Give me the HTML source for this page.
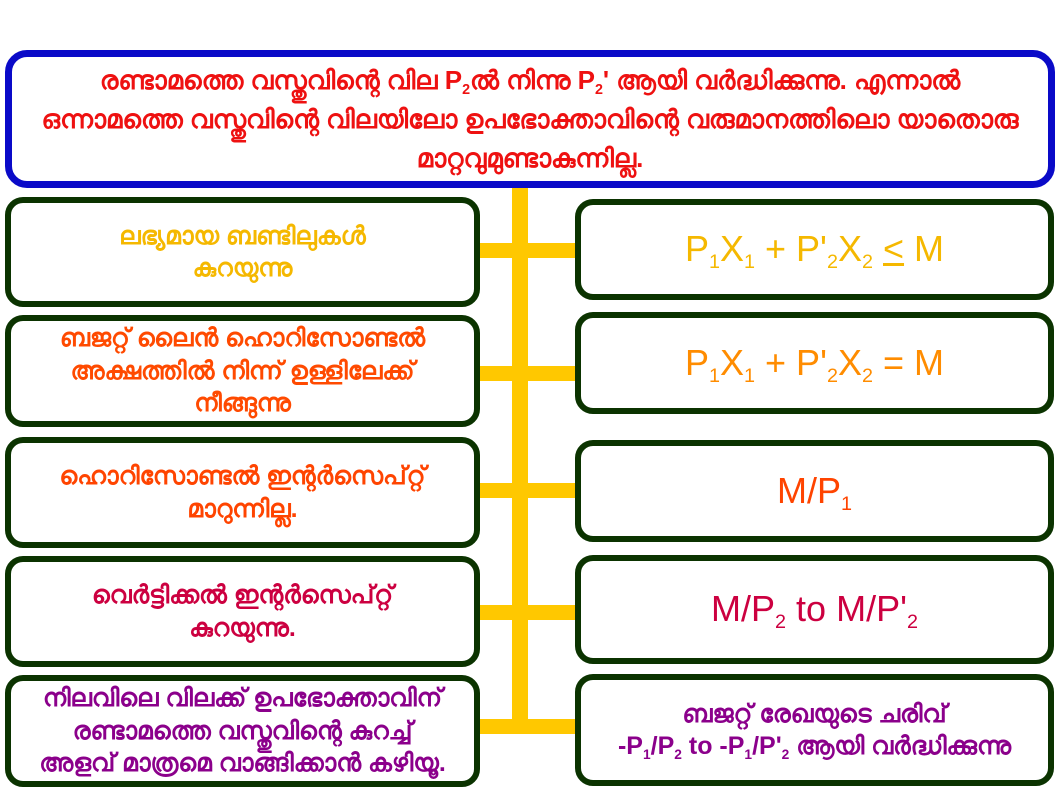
<!DOCTYPE html>
<html><head><meta charset="utf-8"><style>
html,body{margin:0;padding:0;background:#fff;}
body{width:1058px;height:794px;position:relative;overflow:hidden;font-family:"Liberation Sans","DejaVu Sans",sans-serif;}
.b{position:absolute;box-sizing:border-box;background:#fff;border:6px solid #0b3300;border-radius:18px;display:flex;align-items:center;justify-content:center;text-align:center;font-weight:bold;line-height:1.3;}
.b>div{width:100%;}
.bar{position:absolute;background:#ffc800;}
.l{font-size:25px;}
.r{font-size:36px;font-weight:normal;}
sub{font-size:0.55em;vertical-align:-0.35em;line-height:0;}
</style></head><body>
<div class="bar" style="left:512px;top:182px;width:16px;height:540px"></div>
<div class="bar" style="left:476px;top:243px;width:102px;height:15px"></div>
<div class="bar" style="left:476px;top:366px;width:102px;height:15px"></div>
<div class="bar" style="left:476px;top:483px;width:102px;height:15px"></div>
<div class="bar" style="left:476px;top:605px;width:102px;height:15px"></div>
<div class="bar" style="left:476px;top:719px;width:102px;height:15px"></div>

<div class="b" style="left:5px;top:50px;width:1050px;height:138px;border-color:#0a0ac8;border-width:7px;border-radius:22px;color:#ee1111;font-size:26px;line-height:1.5"><div>രണ്ടാമത്തെ വസ്തുവിന്റെ വില P<sub>2</sub>ൽ നിന്നു P<sub>2</sub>' ആയി വർദ്ധിക്കുന്നു. എന്നാൽ<br>ഒന്നാമത്തെ വസ്തുവിന്റെ വിലയിലോ ഉപഭോക്താവിന്റെ വരുമാനത്തിലൊ യാതൊരു<br>മാറ്റവുമുണ്ടാകുന്നില്ല.</div></div>

<div class="b l" style="left:5px;top:197px;width:475px;height:110px;color:#f5b800"><div>ലഭ്യമായ ബണ്ടിലുകൾ<br>കുറയുന്നു</div></div>
<div class="b l" style="left:5px;top:315px;width:475px;height:112px;color:#ff4a00"><div>ബജറ്റ് ലൈൻ ഹൊറിസോണ്ടൽ<br>അക്ഷത്തിൽ നിന്ന് ഉള്ളിലേക്ക്<br>നീങ്ങുന്നു</div></div>
<div class="b l" style="left:5px;top:437px;width:475px;height:111px;color:#ff4400"><div>ഹൊറിസോണ്ടൽ ഇന്റർസെപ്റ്റ്<br>മാറുന്നില്ല.</div></div>
<div class="b l" style="left:5px;top:556px;width:475px;height:111px;color:#cc0040"><div>വെർട്ടിക്കൽ ഇന്റർസെപ്റ്റ്<br>കുറയുന്നു.</div></div>
<div class="b l" style="left:5px;top:675px;width:475px;height:112px;color:#8b008b"><div>നിലവിലെ വിലക്ക് ഉപഭോക്താവിന്<br>രണ്ടാമത്തെ വസ്തുവിന്റെ കുറച്ച്<br>അളവ് മാത്രമെ വാങ്ങിക്കാൻ കഴിയൂ.</div></div>

<div class="b r" style="left:575px;top:199px;width:479px;height:101px;color:#f5b800"><div>P<sub>1</sub>X<sub>1</sub> + P'<sub>2</sub>X<sub>2</sub> <u>&lt;</u> M</div></div>
<div class="b r" style="left:575px;top:312px;width:479px;height:102px;color:#ff8c00"><div>P<sub>1</sub>X<sub>1</sub> + P'<sub>2</sub>X<sub>2</sub> = M</div></div>
<div class="b r" style="left:575px;top:440px;width:479px;height:102px;color:#ff4400"><div>M/P<sub>1</sub></div></div>
<div class="b r" style="left:575px;top:555px;width:479px;height:109px;color:#cc0040"><div>M/P<sub>2</sub> to M/P'<sub>2</sub></div></div>
<div class="b" style="left:575px;top:674px;width:479px;height:112px;color:#8b008b;font-size:25px"><div>ബജറ്റ് രേഖയുടെ ചരിവ്<br>-P<sub>1</sub>/P<sub>2</sub> to -P<sub>1</sub>/P'<sub>2</sub> ആയി വർദ്ധിക്കുന്നു</div></div>
</body></html>
